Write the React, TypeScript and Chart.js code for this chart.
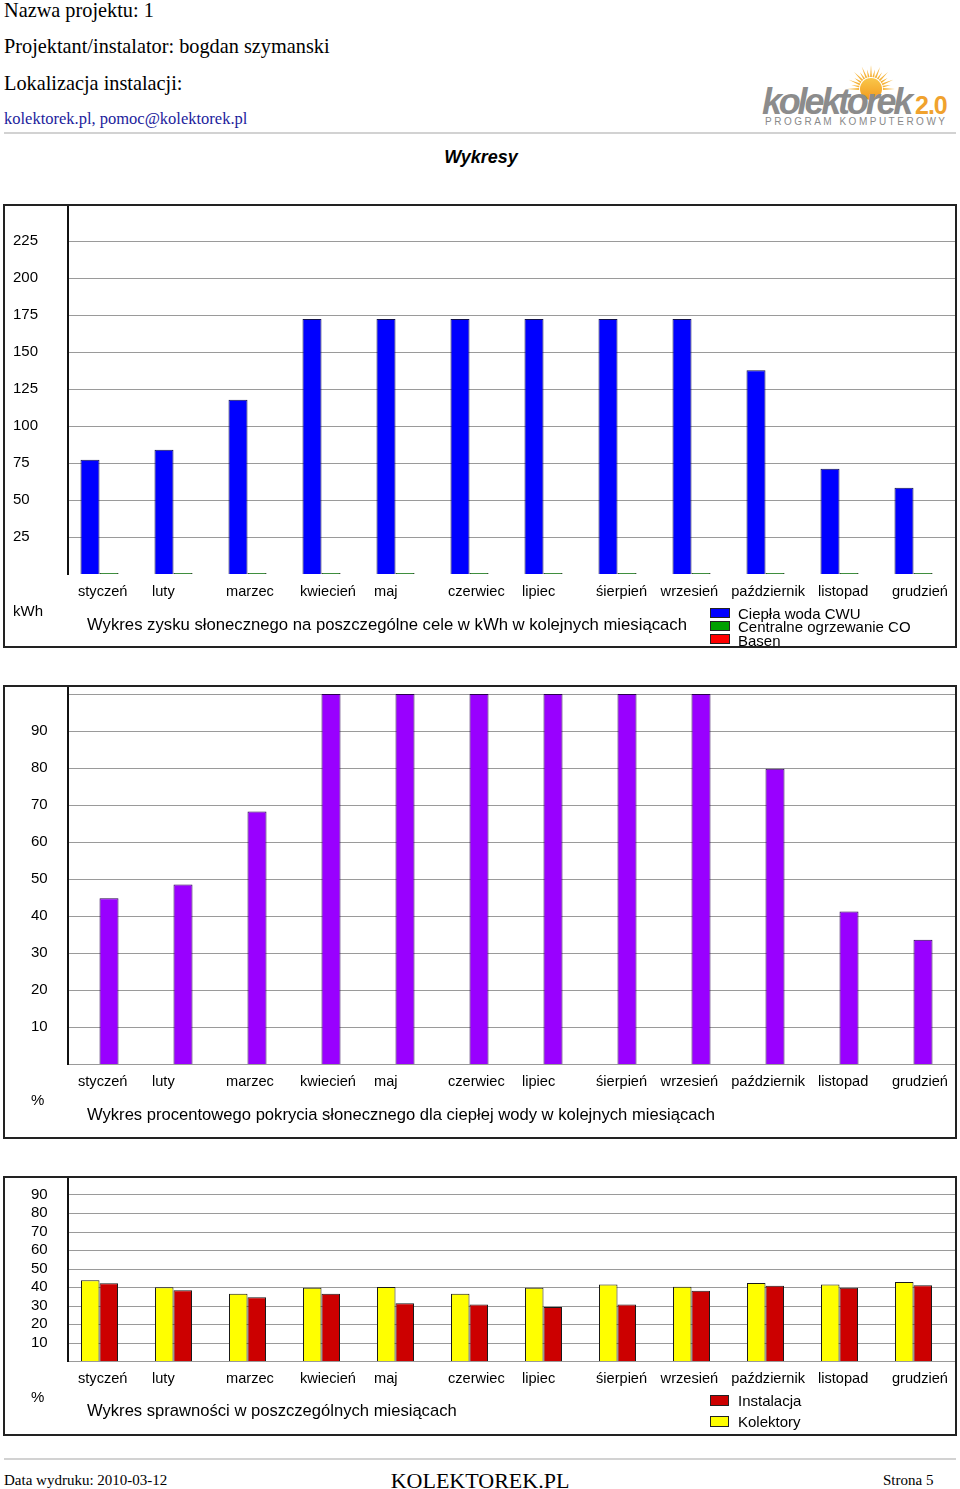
import React, { useEffect, useRef } from 'react';
import { Chart, registerables } from 'chart.js';

Chart.register(...registerables);

// ---------- data ----------
const MONTHS = ['styczeń', 'luty', 'marzec', 'kwiecień', 'maj', 'czerwiec', 'lipiec', 'śierpień', 'wrzesień', 'październik', 'listopad', 'grudzień'];

const GAIN_CWU = [77.2, 84, 117.8, 172.3, 172.3, 172.3, 172.3, 172.3, 172.3, 137.7, 71.1, 58.3];
const GAIN_CO = [0, 0, 0, 0, 0, 0, 0, 0, 0, 0, 0, 0];
const GAIN_BASEN = [0, 0, 0, 0, 0, 0, 0, 0, 0, 0, 0, 0];
const GAIN_TICKS = [25, 50, 75, 100, 125, 150, 175, 200, 225];
const GAIN_MAX = 250;

const COVERAGE = [44.8, 48.5, 68.2, 100, 100, 100, 100, 100, 100, 79.8, 41.2, 33.6];
const COVERAGE_TICKS = [10, 20, 30, 40, 50, 60, 70, 80, 90];
const COVERAGE_GRID = [0, 10, 20, 30, 40, 50, 60, 70, 80, 90, 100];
const COVERAGE_MAX = 102.4;

const EFF_KOLEKTORY = [43.6, 39.8, 36.4, 39.6, 40.0, 36.4, 39.6, 41.4, 40.2, 42.1, 41.3, 42.7];
const EFF_INSTALACJA = [42.0, 38.2, 34.4, 36.4, 31.2, 30.5, 29.2, 30.6, 38.0, 40.7, 39.6, 40.9];
const EFF_TICKS = [10, 20, 30, 40, 50, 60, 70, 80, 90];
const EFF_GRID = [0, 10, 20, 30, 40, 50, 60, 70, 80, 90];
const EFF_MAX = 100;

// ---------- styling ----------
const SANS = "'Liberation Sans', Arial, Helvetica, sans-serif";
const SERIF = "'Liberation Serif', 'Times New Roman', serif";

const framePlugin = (grid: number[], labelShift: number, labelDrop: number) => ({
  id: 'frame',
  beforeDatasetsDraw(chart: any) {
    const { ctx } = chart;
    const y = chart.scales.y;
    ctx.save();
    ctx.strokeStyle = '#9a9a9a';
    ctx.lineWidth = 1;
    ctx.beginPath();
    for (const v of grid) {
      const py = Math.round(y.getPixelForValue(v)) + 0.5;
      ctx.moveTo(69, py);
      ctx.lineTo(955, py);
    }
    ctx.stroke();
    ctx.restore();
  },
  afterDatasetsDraw(chart: any) {
    const { ctx, chartArea } = chart;
    ctx.save();
    ctx.fillStyle = '#111';
    ctx.fillRect(67, 0, 2, Math.round(chartArea.bottom) + 1);
    ctx.restore();
  },
  afterDraw(chart: any) {
    // category labels: left-aligned under each group, nudged left where they would collide
    const { ctx, chartArea } = chart;
    const x = chart.scales.x;
    const labels: string[] = chart.data.labels;
    ctx.save();
    ctx.font = `14.6px ${SANS}`;
    ctx.fillStyle = '#000';
    ctx.textAlign = 'left';
    ctx.textBaseline = 'middle';
    const lefts = labels.map((_, i) => x.getPixelForTick(i) + labelShift);
    const widths = labels.map((l) => ctx.measureText(l).width);
    const GAP = 13;
    for (let i = labels.length - 2; i >= 0; i--) {
      const limit = lefts[i + 1] - GAP - widths[i];
      if (lefts[i] > limit) lefts[i] = limit;
    }
    labels.forEach((l, i) => ctx.fillText(l, lefts[i], chartArea.bottom + labelDrop));
    ctx.restore();
  },
});

type PanelProps = {
  top: number;
  height: number;
  plotHeight: number;
  datasets: any[];
  yMax: number;
  ticks: number[];
  grid: number[];
  tickLeft: number;
  plotLeft: number;
  plotRight: number;
  labelDrop: number;
  labelShift: number;
  categoryPercentage: number;
  barPercentage: number;
};

function BarPanel(p: PanelProps) {
  const ref = useRef<HTMLCanvasElement | null>(null);
  useEffect(() => {
    if (!ref.current) return;
    const font = { family: SANS, size: 15 };
    const chart = new Chart(ref.current, {
      type: 'bar',
      data: { labels: MONTHS, datasets: p.datasets },
      options: {
        responsive: false,
        maintainAspectRatio: false,
        animation: false,
        devicePixelRatio: 1,
        layout: { padding: { left: p.tickLeft, right: 960 - p.plotRight, top: 0, bottom: 0 }, autoPadding: false },
        plugins: { legend: { display: false }, tooltip: { enabled: false }, title: { display: false } },
        datasets: { bar: { categoryPercentage: p.categoryPercentage, barPercentage: p.barPercentage } },
        scales: {
          x: {
            grid: { display: false, drawTicks: false },
            border: { display: false },
            ticks: { display: false, autoSkip: false, maxRotation: 0, minRotation: 0 },
            afterFit: (s: any) => {
              s.height = p.height - p.plotHeight;
              s.paddingLeft = 0;
              s.paddingRight = 0;
            },
          },
          y: {
            min: 0,
            max: p.yMax,
            grid: { display: false, drawTicks: false },
            border: { display: false },
            ticks: { crossAlign: 'far', padding: 0, color: '#000', font },
            afterBuildTicks: (s: any) => {
              s.ticks = p.ticks.map((v) => ({ value: v }));
            },
            afterFit: (s: any) => {
              s.width = p.plotLeft - p.tickLeft;
              s.paddingTop = 0;
              s.paddingBottom = 0;
            },
          },
        },
      } as any,
      plugins: [framePlugin(p.grid, p.labelShift, p.labelDrop)],
    });
    return () => chart.destroy();
  }, []);
  return (
    <>
      <canvas
        ref={ref}
        width={960}
        height={p.height}
        style={{ position: 'absolute', left: 0, top: p.top, width: 960, height: p.height }}
      />
      <div
        style={{
          position: 'absolute',
          left: 3,
          top: p.top,
          width: 954,
          height: p.height,
          border: '2px solid #222',
          boxSizing: 'border-box',
        }}
      />
    </>
  );
}

// text placed by its baseline
function Txt(props: { x: number; base: number; size: number; family?: string; color?: string; weight?: any; italic?: boolean; center?: boolean; children: any; spacing?: number }) {
  const fam = props.family || SANS;
  const asc = fam === SERIF ? 0.8375 : 0.8465;
  return (
    <div
      style={{
        position: 'absolute',
        left: props.center ? props.x - 300 : props.x,
        width: props.center ? 600 : undefined,
        textAlign: props.center ? 'center' : 'left',
        top: props.base - asc * props.size,
        fontFamily: fam,
        fontSize: props.size,
        lineHeight: `${props.size}px`,
        color: props.color || '#000',
        fontWeight: props.weight || 'normal',
        fontStyle: props.italic ? 'italic' : 'normal',
        whiteSpace: 'nowrap',
        letterSpacing: props.spacing,
      }}
    >
      {props.children}
    </div>
  );
}

function Swatch(props: { x: number; y: number; w: number; h: number; color: string }) {
  return (
    <div
      style={{
        position: 'absolute',
        left: props.x,
        top: props.y,
        width: props.w,
        height: props.h,
        background: props.color,
        border: '1px solid #222',
        boxSizing: 'border-box',
      }}
    />
  );
}

const BORDER = '#1a1a1a';

const gainDatasets = [
  { label: 'Ciepła woda CWU', data: GAIN_CWU, backgroundColor: '#0000ff', borderColor: '#10104a', borderWidth: 1 },
  { label: 'Centralne ogrzewanie CO', data: GAIN_CO, backgroundColor: '#00a000', borderColor: '#000', borderWidth: 1, minBarLength: 1 },
  { label: 'Basen', data: GAIN_BASEN, backgroundColor: '#ff0000', borderColor: 'rgba(0,0,0,0)', borderWidth: 0 },
];

const coverageDatasets = [
  { label: 'Pokrycie', data: COVERAGE, backgroundColor: '#9900ff', borderColor: '#2a0050', borderWidth: 1 },
];

const effDatasets = [
  { label: 'Kolektory', data: EFF_KOLEKTORY, backgroundColor: '#ffff00', borderColor: BORDER, borderWidth: 1 },
  { label: 'Instalacja', data: EFF_INSTALACJA, backgroundColor: '#cc0000', borderColor: BORDER, borderWidth: 1 },
];

function Logo() {
  const rays = [] as any[];
  const cx = 871;
  const cy = 89;
  for (let i = 0; i <= 16; i++) {
    const a = Math.PI + (i / 16) * Math.PI;
    const r1 = 12;
    const r2 = i % 2 === 0 ? 24 : 20;
    const w = 0.08;
    const p1 = [cx + r1 * Math.cos(a - w), cy + r1 * Math.sin(a - w)];
    const p2 = [cx + r2 * Math.cos(a), cy + r2 * Math.sin(a)];
    const p3 = [cx + r1 * Math.cos(a + w), cy + r1 * Math.sin(a + w)];
    rays.push(<polygon key={i} points={`${p1.join(',')} ${p2.join(',')} ${p3.join(',')}`} fill="#f6b43a" />);
  }
  return (
    <svg width={960} height={140} style={{ position: 'absolute', left: 0, top: 0 }}>
      <defs>
        <linearGradient id="sun" x1="0" y1="0" x2="0" y2="1">
          <stop offset="0" stopColor="#f9c74a" />
          <stop offset="1" stopColor="#f39a1e" />
        </linearGradient>
      </defs>
      {rays}
      <circle cx={cx} cy={cy} r={11} fill="url(#sun)" />
      <text x={762} y={114} fontFamily={SANS} fontSize={36} fontWeight="bold" fontStyle="italic" fill="#8c8c8c" letterSpacing={-3.2}>
        kolektorek
      </text>
      <text x={915} y={114} fontFamily={SANS} fontSize={25} fontWeight="bold" fill="#f0a22e" letterSpacing={-1}>
        2.0
      </text>
      <text x={765} y={125} fontFamily={SANS} fontSize={10} fill="#8a8a8a" letterSpacing={2.5}>
        PROGRAM KOMPUTEROWY
      </text>
    </svg>
  );
}

export default function App() {
  return (
    <div style={{ position: 'absolute', left: 0, top: 0, width: 960, height: 1489, background: '#fff', overflow: 'hidden' }}>
      {/* header */}
      <Txt x={4} base={17} size={20.3} family={SERIF}>Nazwa projektu: 1</Txt>
      <Txt x={4} base={53} size={20.3} family={SERIF}>Projektant/instalator: bogdan szymanski</Txt>
      <Txt x={4} base={90} size={20.3} family={SERIF}>Lokalizacja instalacji:</Txt>
      <Txt x={4} base={125} size={16.5} family={SERIF} color="#1c1c9c">kolektorek.pl, pomoc@kolektorek.pl</Txt>
      <Logo />
      <div style={{ position: 'absolute', left: 4, top: 132, width: 952, height: 2, background: '#d2d2d2' }} />
      <Txt x={481} base={163} size={18} weight="bold" italic center>Wykresy</Txt>

      {/* chart 1 */}
      <BarPanel
        top={204}
        height={444}
        plotHeight={370}
        datasets={gainDatasets}
        yMax={GAIN_MAX}
        ticks={GAIN_TICKS}
        grid={GAIN_TICKS}
        tickLeft={13}
        plotLeft={72}
        plotRight={960}
        labelDrop={17.5}
        labelShift={-31}
        categoryPercentage={57 / 74}
        barPercentage={1}
      />
      <Txt x={13} base={616} size={15}>kWh</Txt>
      <Txt x={87} base={631} size={16.7}>Wykres zysku słonecznego na poszczególne cele w kWh w kolejnych miesiącach</Txt>
      {gainDatasets.map((d, i) => (
        <React.Fragment key={d.label}>
          <Swatch x={710} y={608 + i * 13} w={20} h={10} color={d.backgroundColor} />
          <Txt x={738} base={618.5 + i * 13.5} size={15}>{d.label}</Txt>
        </React.Fragment>
      ))}

      {/* chart 2 */}
      <BarPanel
        top={685}
        height={454}
        plotHeight={379}
        datasets={coverageDatasets}
        yMax={COVERAGE_MAX}
        ticks={COVERAGE_TICKS}
        grid={COVERAGE_GRID}
        tickLeft={31}
        plotLeft={72}
        plotRight={960}
        labelDrop={18}
        labelShift={-31}
        categoryPercentage={1}
        barPercentage={19 / 74}
      />
      <Txt x={31} base={1105} size={15}>%</Txt>
      <Txt x={87} base={1121} size={16.6}>Wykres procentowego pokrycia słonecznego dla ciepłej wody w kolejnych miesiącach</Txt>

      {/* chart 3 */}
      <BarPanel
        top={1176}
        height={260}
        plotHeight={185}
        datasets={effDatasets}
        yMax={EFF_MAX}
        ticks={EFF_TICKS}
        grid={EFF_GRID}
        tickLeft={31}
        plotLeft={62.5}
        plotRight={950.5}
        labelDrop={17.5}
        labelShift={-21.5}
        categoryPercentage={0.5}
        barPercentage={1}
      />
      <Txt x={31} base={1402} size={15}>%</Txt>
      <Txt x={87} base={1417} size={16.6}>Wykres sprawności w poszczególnych miesiącach</Txt>
      {[...effDatasets].reverse().map((d, i) => (
        <React.Fragment key={d.label}>
          <Swatch x={710} y={1395 + i * 21} w={19} h={11} color={d.backgroundColor} />
          <Txt x={738} base={1406 + i * 21} size={15}>{d.label}</Txt>
        </React.Fragment>
      ))}

      {/* footer */}
      <div style={{ position: 'absolute', left: 4, top: 1458, width: 952, height: 2, background: '#d2d2d2' }} />
      <Txt x={4} base={1486} size={15} family={SERIF}>Data wydruku: 2010-03-12</Txt>
      <Txt x={480} base={1488} size={22} family={SERIF} center>KOLEKTOREK.PL</Txt>
      <Txt x={883} base={1486} size={15} family={SERIF}>Strona 5</Txt>
    </div>
  );
}
